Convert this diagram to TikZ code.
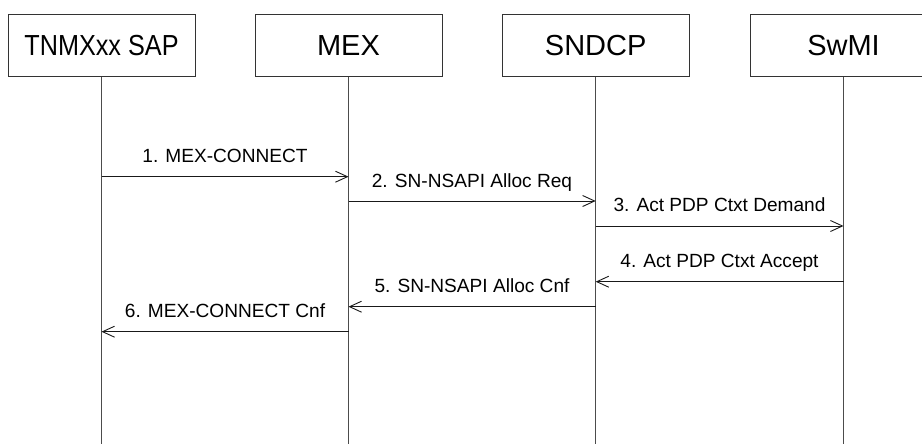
\documentclass[tikz,border=0pt]{standalone}
\usepackage{fontspec}
\setmainfont{Liberation Sans}
\usetikzlibrary{arrows.meta}
\begin{document}
\begin{tikzpicture}[x=1pt,y=-1pt,
  entity/.style={draw=black!80,line width=1pt,minimum width=187pt,minimum height=62pt,inner sep=0pt,font=\fontsize{29}{34}\selectfont},
  lifeline/.style={draw=black!70,line width=1.2pt},
  msg/.style={draw=black!90,line width=1pt,-{Straight Barb[length=12pt,width=11pt,line width=0.9pt]}},
  lbl/.style={anchor=base,inner sep=0pt,font=\fontsize{19.1}{23}\selectfont}]
\useasboundingbox (0,0) rectangle (922,444);
\fill[white] (0,0) rectangle (922,444);
\node[entity] (tnm) at (101.5,46) {\scalebox{0.87}[1]{TNMXxx SAP}};
\node[entity] (mex) at (348.5,46) {MEX};
\node[entity] (snd) at (595.7,46) {SNDCP};
\node[entity] (swm) at (843.5,46) {SwMI};
\foreach \n in {tnm,mex,snd,swm}{
  \coordinate (\n-end) at (\n.south |- 0,450);
  \draw[lifeline] (\n.south) -- (\n-end);
}
% messages
\draw[msg] (tnm |- 0,176.7) -- (mex |- 0,176.7);
\node[lbl] (l1) at (225,162.5) {1. MEX-CONNECT};
\draw[msg] (mex |- 0,201) -- (snd |- 0,201);
\node[lbl] (l2) at (472,187) {2. SN-NSAPI Alloc Req};
\draw[msg] (snd |- 0,226) -- (swm |- 0,226);
\node[lbl] (l3) at (719.5,211.5) {3. Act PDP Ctxt Demand};
\draw[msg] (swm |- 0,281.7) -- (snd |- 0,281.7);
\node[lbl] (l4) at (719.5,267.5) {4. Act PDP Ctxt Accept};
\draw[msg] (snd |- 0,306.7) -- (mex |- 0,306.7);
\node[lbl] (l5) at (472,292.5) {5. SN-NSAPI Alloc Cnf};
\draw[msg] (mex |- 0,331.7) -- (tnm |- 0,331.7);
\node[lbl] (l6) at (225,317) {6. MEX-CONNECT Cnf};
\end{tikzpicture}
\end{document}
